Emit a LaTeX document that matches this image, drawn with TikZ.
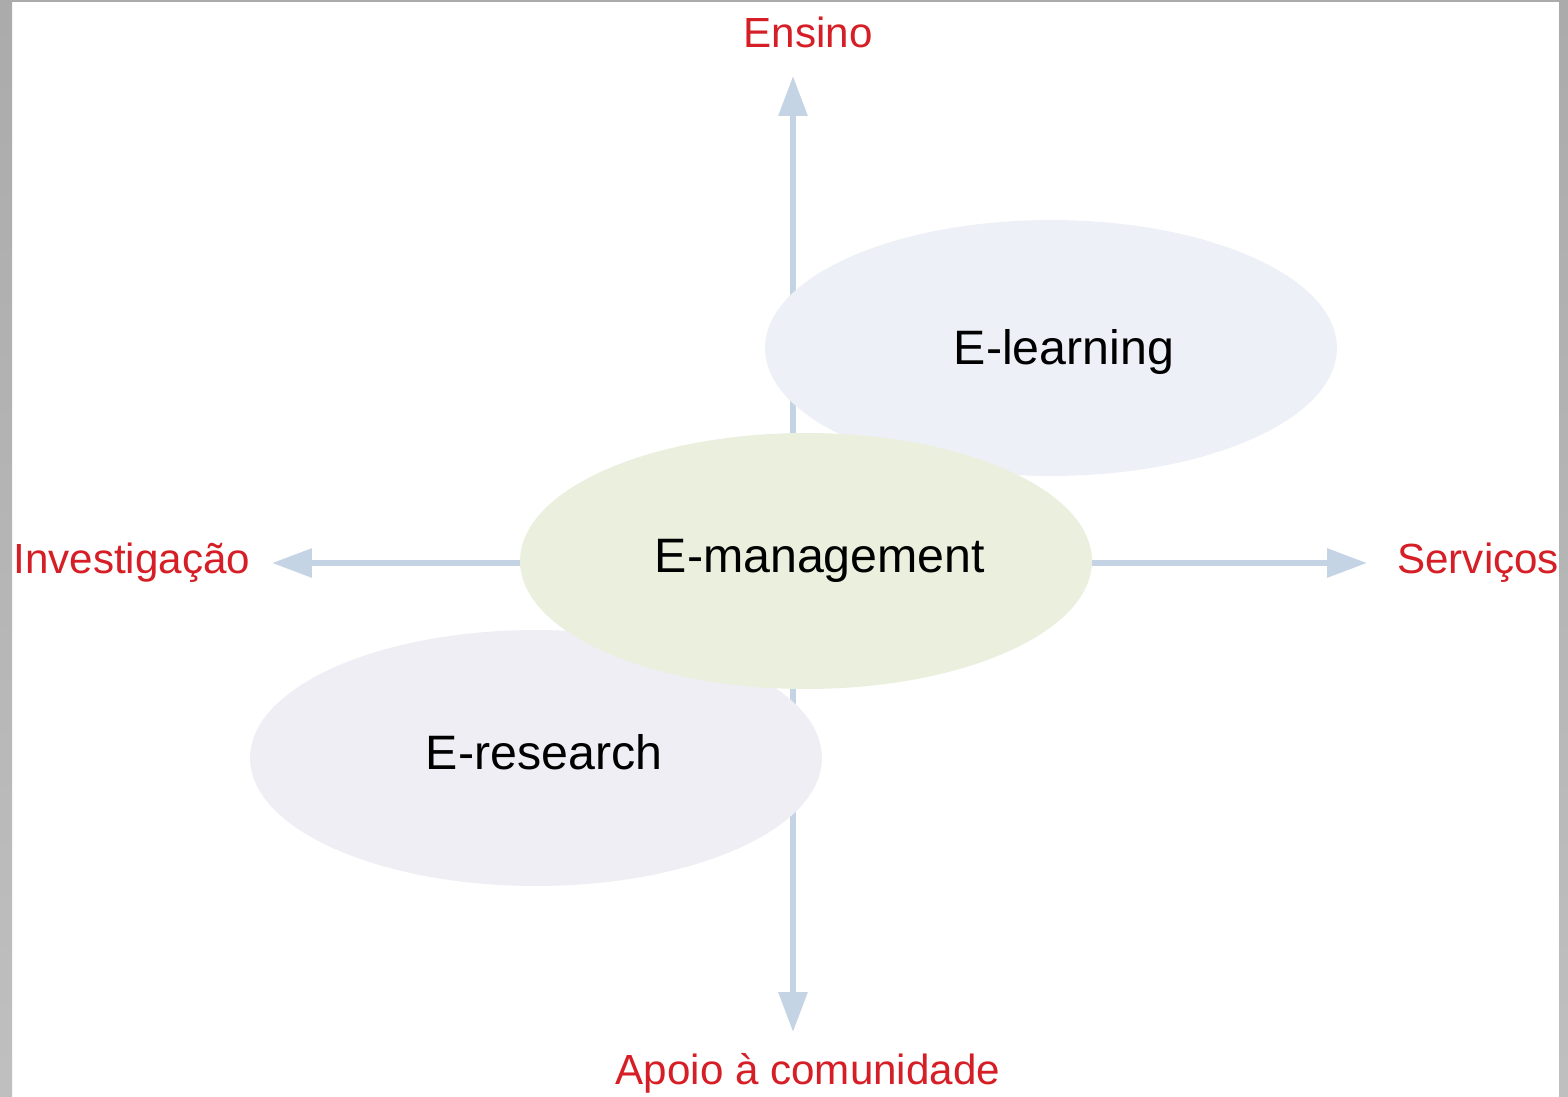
\documentclass[tikz,border=0pt]{standalone}
\usepackage{fontspec}
\setmainfont{Liberation Sans}
\usetikzlibrary{shapes.geometric,arrows.meta}

\definecolor{axisblue}{RGB}{197,212,229}
\definecolor{labelred}{RGB}{214,30,38}
\definecolor{learnfill}{RGB}{237,241,247}
\definecolor{managefill}{RGB}{234,240,221}
\definecolor{researchfill}{RGB}{239,238,245}

\begin{document}
\begin{tikzpicture}[
    x=0.02cm, y=-0.02cm,
    font=\fontsize{27.5}{33}\selectfont,
    axis/.style={line width=0.12cm, axisblue, -{Triangle[length=0.8cm, width=0.56cm]}},
    blob/.style={ellipse, minimum width=11.44cm, minimum height=5.12cm, inner sep=0pt},
    dirlabel/.style={text=labelred, font=\fontsize{24}{29}\selectfont, inner sep=0pt},
]

% Page and frame
\useasboundingbox (0,0) rectangle (1568,1096);
\fill[white] (0,0) rectangle (1568,1096);
\shade[top color=gray!66, bottom color=gray!50] (0,0) rectangle (12,1096);
\shade[top color=gray!66, bottom color=gray!50] (1559,0) rectangle (1568,1096);
\fill[gray!66] (12,0) rectangle (1559,2);

% Axis end points
\coordinate (Origin) at (793, 563);
\coordinate (TipN) at (793, 76);
\coordinate (TipS) at (793, 1032);
\coordinate (TipW) at (272, 563);
\coordinate (TipE) at (1367, 563);

% Axes
\draw[axis] (Origin) -- (TipN);
\draw[axis] (Origin) -- (TipS);
\draw[axis] (Origin) -- (TipW);
\draw[axis] (Origin) -- (TipE);

% Direction labels
\node[dirlabel] (ensino) at (808, 32) {Ensino};
\node[dirlabel, anchor=west] (invest) at (13, 563) {Investigação};
\node[dirlabel, anchor=west] (servicos) at (1397, 563) {Serviços};
\node[dirlabel] (apoio) at (808, 1073) {Apoio à comunidade};

% Areas
\node[blob, fill=learnfill, label={[xshift=0.26cm, yshift=-0.08cm]center:E-learning}] (elearning) at (1051, 348) {};
\node[blob, fill=researchfill, label={[xshift=0.16cm, yshift=0.12cm]center:E-research}] (eresearch) at (536, 758) {};
\node[blob, fill=managefill, label={[xshift=0.28cm]center:E-management}] (emanagement) at (806, 561) {};

\end{tikzpicture}
\end{document}
